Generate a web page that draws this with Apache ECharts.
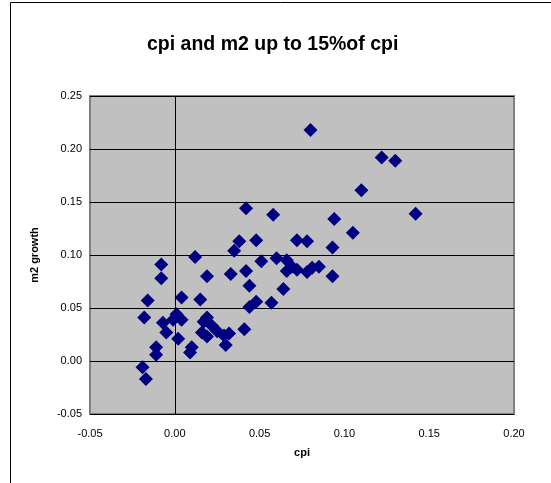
<!DOCTYPE html>
<html>
<head>
<meta charset="utf-8">
<script src="https://cdn.jsdelivr.net/npm/echarts@6/dist/echarts.min.js"></script>
<style>html,body{margin:0;padding:0;background:#fff;}#c{width:551px;height:483px;}</style>
</head>
<body>
<div id="c"></div>
<script>
var titleText = 'cpi and m2 up to 15%of cpi';
var xName = 'cpi';
var yName = 'm2 growth';
var cpi = [0.080,0.122,0.130,0.110,0.142,0.042,0.058,0.094,0.105,0.012,0.038,0.035,0.048,0.072,0.078,0.093,0.060,0.051,0.042,0.019,0.033,0.066,0.069,0.066,0.072,0.078,0.081,0.085,0.093,-0.008,-0.008,-0.016,-0.018,0.044,0.064,0.048,0.044,0.057,0.015,0.004,0.001,0.004,-0.001,-0.007,-0.005,0.002,0.019,0.017,0.022,0.025,0.016,0.019,0.029,0.032,0.030,0.041,0.010,0.009,-0.011,-0.011,-0.019,-0.017];
var m2 = [0.218,0.192,0.189,0.161,0.139,0.144,0.138,0.134,0.121,0.098,0.113,0.104,0.114,0.114,0.113,0.107,0.097,0.094,0.085,0.080,0.082,0.095,0.089,0.085,0.086,0.084,0.088,0.089,0.080,0.091,0.078,0.057,0.041,0.071,0.068,0.056,0.051,0.055,0.058,0.060,0.044,0.039,0.039,0.036,0.027,0.021,0.041,0.037,0.033,0.028,0.027,0.023,0.024,0.026,0.015,0.030,0.013,0.008,0.013,0.006,-0.006,-0.017];
var xTicks = [-0.05, 0.20, 0.05];
var yTicks = [-0.05, 0.25, 0.05];

var pts = cpi.map(function(v, i){ return [v, m2[i]]; });
var chart = echarts.init(document.getElementById('c'), null, {renderer:'canvas'});
var font = 'Liberation Sans, Arial, sans-serif';
chart.setOption({
  animation: false,
  backgroundColor: '#fff',
  title: {
    text: titleText, left: 142, top: 30,
    textStyle: {fontSize: 19.5, fontWeight: 'bold', color: '#000', fontFamily: font}
  },
  graphic: [{
    type: 'polyline', silent: true,
    shape: {points: [[10.5, 483], [10.5, 2.5], [551, 2.5]]},
    style: {stroke: '#000', lineWidth: 1, fill: null}
  }],
  grid: {
    left: 90, top: 96, right: 37, bottom: 69,
    show: true, backgroundColor: '#c0c0c0', borderColor: '#808080', borderWidth: 2
  },
  xAxis: {
    type: 'value', min: xTicks[0], max: xTicks[1], interval: xTicks[2],
    axisLine: {show: false}, axisTick: {show: false}, splitLine: {show: false},
    axisLabel: {color: '#000', fontSize: 11, fontFamily: font, margin: 14,
      formatter: function(v){ return v.toFixed(2); }},
    name: xName, nameLocation: 'middle', nameGap: 33,
    nameTextStyle: {color: '#000', fontSize: 11, fontWeight: 'bold', fontFamily: font}
  },
  yAxis: {
    type: 'value', min: yTicks[0], max: yTicks[1], interval: yTicks[2],
    axisLine: {show: false}, axisTick: {show: false},
    splitLine: {show: true, lineStyle: {color: '#000', width: 1}},
    axisLabel: {color: '#000', fontSize: 11, fontFamily: font, margin: 8,
      formatter: function(v){ return v.toFixed(2); }},
    name: yName, nameLocation: 'middle', nameGap: 50,
    nameTextStyle: {color: '#000', fontSize: 11, fontWeight: 'bold', fontFamily: font}
  },
  series: [{
    type: 'scatter', data: pts, symbol: 'diamond', symbolSize: 14,
    itemStyle: {color: '#000080', opacity: 1},
    markLine: {
      silent: true, symbol: ['none', 'none'], label: {show: false},
      lineStyle: {color: '#000', width: 1, type: 'solid'},
      emphasis: {disabled: true},
      data: [{xAxis: 0}, {yAxis: 0}]
    },
    z: 3
  }]
});
</script>
</body>
</html>
